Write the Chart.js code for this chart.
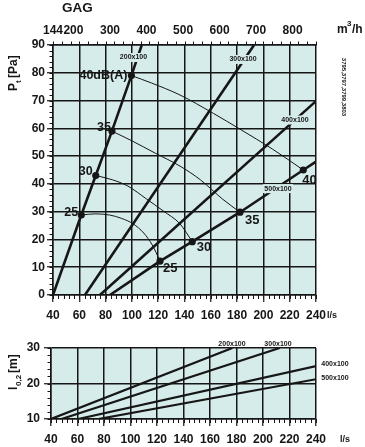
<!DOCTYPE html>
<html><head><meta charset="utf-8">
<script src="https://cdn.jsdelivr.net/npm/chart.js@4.4.1/dist/chart.umd.min.js"></script>
<style>
html,body{margin:0;padding:0;background:#fff;width:365px;height:447px;overflow:hidden;}
canvas{position:absolute;left:0;}
#c1{top:0}
#c2{top:330px}
</style></head><body>
<canvas id="c1" width="365" height="330"></canvas>
<canvas id="c2" width="365" height="117"></canvas>
<script>
// ================= DATA =================
const titleText = 'GAG';
const flowTicksLs = [40,60,80,100,120,140,160,180,200,220,240];
const flowTicksM3h = [144,200,300,400,500,600,700,800];
const pressureTicksPa = [0,10,20,30,40,50,60,70,80,90];
const throwTicksM = [10,20,30];
const ductNames = ['200x100','300x100','400x100','500x100'];
const modelCodes = '3795,3797,3799,3803';

// total pressure lines per duct size  [l/s, Pa]
const duct200x100 = [[40,0],[61.5,28.8],[72.5,43],[84.8,59],[99.6,79],[107.5,90]];
const duct300x100 = [[64.3,0],[192.9,90]];
const duct400x100 = [[75.7,0],[240,69.8]];
const duct500x100 = [[83.3,0],[121.4,12.2],[145.9,19.2],[182.2,29.8],[230.3,45],[240,48]];

// sound level curves dB(A)  [l/s, Pa]
const sound25 = [[61.5,28.8],[72,29.2],[83,28.8],[92,27.6],[101,25.6],[109,22.3],[115.5,18],[121.4,12.2]];
const sound30 = [[72.5,43],[85,41.5],[97,39.2],[111,34.6],[124,30.2],[136.6,25.6],[145.9,19.2]];
const sound35 = [[84.8,59],[100,55.5],[118,51],[136.6,46.4],[152,41.5],[169,34.5],[182.2,29.8]];
const sound40 = [[99.6,79],[115,76.3],[136.6,72],[161.9,65.4],[182.2,59.7],[207,52.5],[230.3,45]];
const soundStartLabels = ['25','30','35','40dB(A)'];
const soundEndLabels = ['25','30','35','40'];

// throw l0,2 per duct size  [l/s, m]
const throw200x100 = [[40,10],[176.9,30]];
const throw300x100 = [[47.9,10],[212.6,30]];
const throw400x100 = [[60.5,10],[240,24.9]];
const throw500x100 = [[75.7,10],[240,21.2]];

// ================= LAYOUT / STYLE =================
const INK = '#161616';
const PLOT_BG = '#d6ecea';
const SANS = '"Liberation Sans",Arial,sans-serif';
const TICKFONT = {family: SANS, size: 12, weight: 'bold'};
// label anchors (data coords) and offsets (px) – layout only
const ductLabelPosTop = [[101.2,85.5],[184.5,84.8],[224,63],[211.1,38.3]];
const ductLabelPosBottom = [[176.6,31.2],[211.3,31.2],[254.3,25.4],[254.3,21.4]];
const startLabelOff = [[-3,-2],[-3,-4],[-1,-4],[-4,0]];
const endLabelOff = [[3,7.5],[4.5,6],[5,8.3],[-1,10]];

const toXY = arr => arr.map(([x,y]) => ({x, y}));
const lineDs = (arr, w) => ({data: toXY(arr), borderColor: INK, borderWidth: w, pointRadius: 0, fill: false, tension: 0});
const curveDs = arr => ({data: toXY(arr), borderColor: INK, borderWidth: 1, pointRadius: 0, fill: false, cubicInterpolationMode: 'monotone'});
const soundCurves = [sound25, sound30, sound35, sound40];
const startDots = soundCurves.map(c => c[0]);
const endDots = soundCurves.map(c => c[c.length-1]);

function range(a, b, s){ const r=[]; for(let v=a; v<=b+1e-9; v+=s) r.push(+v.toFixed(4)); return r; }

const bgPlugin = {
  id: 'bg',
  beforeDraw(chart){
    const {ctx, chartArea: a} = chart;
    ctx.save(); ctx.fillStyle = PLOT_BG;
    ctx.fillRect(a.left, a.top, a.right - a.left, a.bottom - a.top);
    ctx.restore();
  }
};

function drawMinor(chart, specs){
  const {ctx, chartArea: a} = chart;
  ctx.save(); ctx.strokeStyle = INK; ctx.lineWidth = 1;
  specs.forEach(sp => {
    const sc = chart.scales[sp.axis];
    sp.values.forEach(v => {
      const p = Math.round(sc.getPixelForValue(v)) + 0.5;
      ctx.beginPath();
      if (sp.side === 'left'){ ctx.moveTo(a.left - sp.len, p); ctx.lineTo(a.left, p); }
      else if (sp.side === 'bottom'){ ctx.moveTo(p, a.bottom); ctx.lineTo(p, a.bottom + sp.len); }
      else { ctx.moveTo(p, a.top - sp.len); ctx.lineTo(p, a.top); }
      ctx.stroke();
    });
  });
  ctx.restore();
}
function txt(ctx, s, x, y, font, align, base){
  ctx.font = font; ctx.fillStyle = INK; ctx.textAlign = align || 'left'; ctx.textBaseline = base || 'alphabetic';
  ctx.fillText(s, x, y);
}
function boxedLabel(chart, s, pos, withBg){
  const {ctx} = chart;
  const x = chart.scales.x.getPixelForValue(pos[0]);
  const y = chart.scales.y.getPixelForValue(pos[1]);
  ctx.save();
  ctx.font = 'bold 7px ' + SANS;
  const w = ctx.measureText(s).width;
  if (withBg){ ctx.fillStyle = PLOT_BG; ctx.fillRect(x - w/2 - 1.5, y - 4.5, w + 3, 9); }
  txt(ctx, s, x, y, 'bold 7px ' + SANS, 'center', 'middle');
  ctx.restore();
}

// ================= TOP CHART =================
const topDecor = {
  id: 'topDecor',
  afterDatasetsDraw(chart){
    const {ctx} = chart;
    ductNames.forEach((n, i) => boxedLabel(chart, n, ductLabelPosTop[i], true));
    ctx.save();
    const sx = chart.scales.x, sy = chart.scales.y;
    startDots.forEach((d, i) => {
      txt(ctx, soundStartLabels[i], sx.getPixelForValue(d[0]) + startLabelOff[i][0], sy.getPixelForValue(d[1]) + startLabelOff[i][1], 'bold 12.5px ' + SANS, 'right', 'middle');
    });
    endDots.forEach((d, i) => {
      txt(ctx, soundEndLabels[i], sx.getPixelForValue(d[0]) + endLabelOff[i][0], sy.getPixelForValue(d[1]) + endLabelOff[i][1], 'bold 13px ' + SANS, 'left', 'middle');
    });
    ctx.restore();
  },
  afterDraw(chart){
    const {ctx} = chart;
    drawMinor(chart, [
      {axis: 'y', side: 'left', len: 3.5, values: range(0, 90, 2)},
      {axis: 'x', side: 'bottom', len: 4, values: range(40, 240, 4)},
      {axis: 'x2', side: 'top', len: 3.5, values: range(144, 864, 24)}
    ]);
    ctx.save();
    txt(ctx, titleText, 62, 11.5, 'bold 13.5px ' + SANS, 'left', 'alphabetic');
    // m3/h unit
    txt(ctx, 'm', 337, 33, 'bold 12px ' + SANS, 'left', 'alphabetic');
    txt(ctx, '3', 347, 26, 'bold 8px ' + SANS, 'left', 'alphabetic');
    txt(ctx, '/h', 352, 33, 'bold 12px ' + SANS, 'left', 'alphabetic');
    txt(ctx, 'l/s', 332, 316, 'bold 9px ' + SANS, 'center', 'middle');
    // y title Pt [Pa]
    ctx.save(); ctx.translate(17, 91); ctx.rotate(-Math.PI/2);
    txt(ctx, 'P', 0, 0, 'bold 12px ' + SANS, 'left', 'alphabetic');
    txt(ctx, 't', 8, 3.5, 'bold 8px ' + SANS, 'left', 'alphabetic');
    txt(ctx, '[Pa]', 13, 0, 'bold 12px ' + SANS, 'left', 'alphabetic');
    ctx.restore();
    // model codes
    ctx.save(); ctx.translate(344, 87); ctx.rotate(Math.PI/2);
    txt(ctx, modelCodes, 0, 0, 'bold 6px ' + SANS, 'center', 'middle');
    ctx.restore();
    ctx.restore();
  }
};

new Chart(document.getElementById('c1'), {
  type: 'line',
  data: {datasets: [
    lineDs(duct200x100, 2.6), lineDs(duct300x100, 2.6), lineDs(duct400x100, 2.6), lineDs(duct500x100, 2.6),
    curveDs(sound25), curveDs(sound30), curveDs(sound35), curveDs(sound40),
    {data: toXY(startDots.concat(endDots)), showLine: false, pointRadius: 3.6, pointBackgroundColor: INK, pointBorderWidth: 0}
  ]},
  options: {
    responsive: false, animation: false, events: [],
    layout: {padding: {left: 0, right: 49, top: 0, bottom: 0}},
    plugins: {legend: {display: false}, tooltip: {enabled: false}},
    scales: {
      x: {type: 'linear', position: 'bottom', min: 40, max: 240,
        afterBuildTicks: s => { s.ticks = flowTicksLs.map(v => ({value: v})); },
        ticks: {font: TICKFONT, color: INK, padding: 6.5, maxRotation: 0, autoSkip: false},
        grid: {color: INK, lineWidth: 1.5, tickLength: 7, tickColor: INK, tickWidth: 1.2},
        border: {color: INK, width: 1.5},
        afterFit: s => { s.height = 35; }
      },
      x2: {type: 'linear', position: 'top', min: 144, max: 864,
        afterBuildTicks: s => { s.ticks = flowTicksM3h.map(v => ({value: v})); },
        ticks: {font: TICKFONT, color: INK, padding: 7.5, maxRotation: 0, autoSkip: false},
        grid: {display: true, drawOnChartArea: false, drawTicks: false},
        border: {color: INK, width: 1.5},
        afterFit: s => { s.height = 45; }
      },
      y: {type: 'linear', min: 0, max: 90,
        afterBuildTicks: s => { s.ticks = pressureTicksPa.map(v => ({value: v})); },
        ticks: {font: TICKFONT, color: INK, padding: 2},
        grid: {color: INK, lineWidth: 1.5, tickLength: 6, tickColor: INK, tickWidth: 1.2},
        border: {color: INK, width: 1.5},
        afterFit: s => { s.width = 53; }
      }
    }
  },
  plugins: [bgPlugin, topDecor]
});

// ================= BOTTOM CHART =================
const botDecor = {
  id: 'botDecor',
  afterDatasetsDraw(chart){
    ductNames.forEach((n, i) => boxedLabel(chart, n, ductLabelPosBottom[i], false));
  },
  afterDraw(chart){
    const {ctx} = chart;
    drawMinor(chart, [
      {axis: 'y', side: 'left', len: 3.5, values: range(10, 30, 2)},
      {axis: 'x', side: 'bottom', len: 4, values: range(40, 240, 4)}
    ]);
    ctx.save();
    txt(ctx, 'l/s', 345, 110, 'bold 9px ' + SANS, 'center', 'middle');
    ctx.save(); ctx.translate(17, 60); ctx.rotate(-Math.PI/2);
    txt(ctx, 'l', 0, 0, 'bold 12px ' + SANS, 'left', 'alphabetic');
    txt(ctx, '0,2', 4, 3.5, 'bold 8px ' + SANS, 'left', 'alphabetic');
    txt(ctx, '[m]', 17, 0, 'bold 12px ' + SANS, 'left', 'alphabetic');
    ctx.restore();
    ctx.restore();
  }
};

new Chart(document.getElementById('c2'), {
  type: 'line',
  data: {datasets: [
    lineDs(throw200x100, 2.2), lineDs(throw300x100, 2.2), lineDs(throw400x100, 2.2), lineDs(throw500x100, 2.2)
  ]},
  options: {
    responsive: false, animation: false, events: [],
    layout: {padding: {left: 0, right: 49, top: 18, bottom: 0}},
    plugins: {legend: {display: false}, tooltip: {enabled: false}},
    scales: {
      x: {type: 'linear', position: 'bottom', min: 40, max: 240,
        afterBuildTicks: s => { s.ticks = flowTicksLs.map(v => ({value: v})); },
        ticks: {font: TICKFONT, color: INK, padding: 6, maxRotation: 0, autoSkip: false},
        grid: {color: INK, lineWidth: 1.5, tickLength: 7, tickColor: INK, tickWidth: 1.2},
        border: {color: INK, width: 1.5},
        afterFit: s => { s.height = 28; }
      },
      y: {type: 'linear', min: 10, max: 30,
        afterBuildTicks: s => { s.ticks = throwTicksM.map(v => ({value: v})); },
        ticks: {font: TICKFONT, color: INK, padding: 4},
        grid: {color: INK, lineWidth: 1.5, tickLength: 7, tickColor: INK, tickWidth: 1.2},
        border: {color: INK, width: 1.5},
        afterFit: s => { s.width = 51; }
      }
    }
  },
  plugins: [bgPlugin, botDecor]
});
</script>
</body></html>
